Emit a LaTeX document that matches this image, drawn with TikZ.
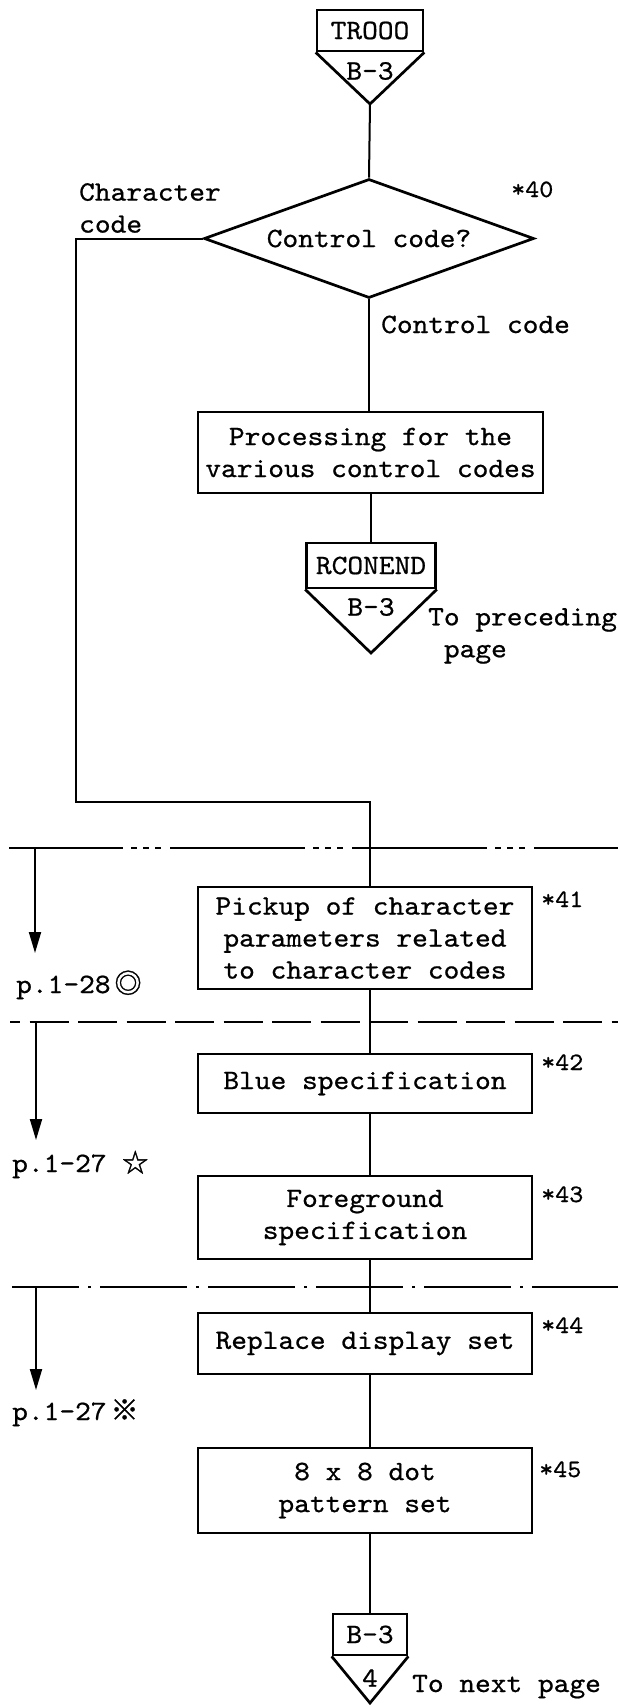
\documentclass[tikz,border=0pt]{standalone}
\usepackage{fontspec}
\usetikzlibrary{shapes.geometric,arrows.meta}
% typewriter face, widened a little to the pitch of an office typewriter
\newfontfamily\tw[FakeStretch=1.07,FakeBold=0.7]{lmmono10-regular.otf}
\newfontfamily\symf[FakeBold=1.2]{Noto Sans CJK JP}

\tikzset{
  txt/.style={font=\tw\fontsize{28}{32}\selectfont},
  procbox/.style={draw, line width=2.7pt, rectangle, inner sep=0pt, align=center, txt},
  decbox/.style={draw, diamond, line width=2.7pt, inner sep=0pt, aspect=2.77, txt},
  pagebox/.style={draw, line width=2.7pt, rectangle, inner sep=0pt, txt},
  pageedge/.style={line width=2.7pt, line join=miter},
  lbl/.style={inner sep=0pt, txt},
  refno/.style={inner sep=0pt, anchor=base west, font=\tw\fontsize{25}{28}\selectfont},
  flow/.style={line width=2pt},
  divider/.style={line width=2.3pt},
  pagearrow/.style={line width=2pt, -{Triangle[length=21pt,width=12pt]}},
}

\begin{document}
\begin{tikzpicture}[x=1pt, y=-1pt]
\useasboundingbox (0,0) rectangle (618,1708);

% entry connector
\node[pagebox, minimum width=106pt, minimum height=41pt] (entry) at (370,30.5) {TROOO};
\coordinate (entrytip) at (370,104);
\draw[pageedge] (entry.south west) -- (entrytip) -- (entry.south east);
\node[lbl] (entryref) at (370,71) {B-3};

% decision
\node[decbox, minimum width=330pt, minimum height=119pt] (dec) at (369,238.5) {Control code?};
\node[lbl, anchor=north west, align=left] (charlbl) at (79,183) {Character\\code};
\node[refno] (n40) at (511,197) {*40};
\node[lbl, anchor=base west] (ctllbl) at (381,333) {Control code};

% control code branch
\node[procbox, minimum width=345pt, minimum height=81pt] (proc) at (370.5,452.5) {Processing for the\\various control codes};
\node[pagebox, minimum width=129pt, minimum height=45pt] (rcon) at (371,565.5) {RCONEND};
\coordinate (rcontip) at (371,653);
\draw[pageedge] (rcon.south west) -- (rcontip) -- (rcon.south east);
\node[lbl] (rconref) at (371,607) {B-3};
\node[lbl, anchor=north west, align=left] (prevlbl) at (428,608) {To preceding\\\hphantom{T}page};

% character code branch
\node[procbox, minimum width=334pt, minimum height=102pt] (pick) at (365,938) {Pickup of character\\parameters related\\to character codes};
\node[procbox, minimum width=334pt, minimum height=59pt] (blue) at (365,1083.5) {Blue specification};
\node[procbox, minimum width=334pt, minimum height=83pt] (fg) at (365,1217.5) {Foreground\\specification};
\node[procbox, minimum width=334pt, minimum height=61pt] (repl) at (365,1343.5) {Replace display set};
\node[procbox, minimum width=334pt, minimum height=85pt] (dots) at (365,1490.5) {8 x 8 dot\\pattern set};
\node[refno] (n41) at (541,907) {*41};
\node[refno] (n42) at (541,1070) {*42};
\node[refno] (n43) at (541,1202) {*43};
\node[refno] (n44) at (541,1333) {*44};
\node[refno] (n45) at (539,1477) {*45};

% exit connector
\node[pagebox, minimum width=74pt, minimum height=41pt] (exit) at (370,1634.5) {B-3};
\coordinate (exittip) at (370,1703);
\draw[pageedge] (exit.south west) -- (exittip) -- (exit.south east);
\node[lbl] (exitref) at (370,1678) {4};
\node[lbl, anchor=base west] (nextlbl) at (412,1692) {To next page};

% flow lines
\coordinate (lbend) at (76,802);
\coordinate (rbend) at (370,802);
\draw[flow] (entrytip) -- (dec.north);
\draw[flow] (dec.south) -- (proc.north -| dec.south);
\draw[flow] (proc.south -| rcon.north) -- (rcon.north);
\draw[flow] (dec.west) -| (lbend) -- (rbend) -- (pick.north -| rbend);
\draw[flow] (pick.south -| rbend) -- (blue.north -| rbend);
\draw[flow] (blue.south -| rbend) -- (fg.north -| rbend);
\draw[flow] (fg.south -| rbend) -- (repl.north -| rbend);
\draw[flow] (repl.south -| rbend) -- (dots.north -| rbend);
\draw[flow] (dots.south -| rbend) -- (exit.north);

% section dividers
\draw[divider, dash pattern=on 135pt off 8pt on 6pt off 6pt on 6pt off 6pt on 6pt off 9pt, dash phase=21pt] (9,848) -- (618,848);
\draw[divider, dash pattern=on 39pt off 9.5pt, dash phase=29pt] (10,1022) -- (618,1022);
\draw[divider, dash pattern=on 87pt off 9pt on 3pt off 9pt, dash phase=20pt] (12,1287) -- (618,1287);

% page references
\coordinate (a1s) at (35,848);  \coordinate (a1e) at (35,953);
\coordinate (a2s) at (36,1022); \coordinate (a2e) at (36,1140);
\coordinate (a3s) at (36,1287); \coordinate (a3e) at (36,1390);
\draw[pagearrow] (a1s) -- (a1e);
\draw[pagearrow] (a2s) -- (a2e);
\draw[pagearrow] (a3s) -- (a3e);
\node[lbl, anchor=base west] (p1) at (16,993) {p.1-28\hspace{4pt}{\symf\fontsize{27}{27}\selectfont ◎}};
\node[lbl, anchor=base west] (p2) at (12,1172) {p.1-27 {\symf\fontsize{26}{26}\selectfont ☆}};
\node[lbl, anchor=base west] (p3) at (12,1420) {p.1-27\hspace{4pt}{\symf\fontsize{28}{28}\selectfont ※}};
\end{tikzpicture}
\end{document}
